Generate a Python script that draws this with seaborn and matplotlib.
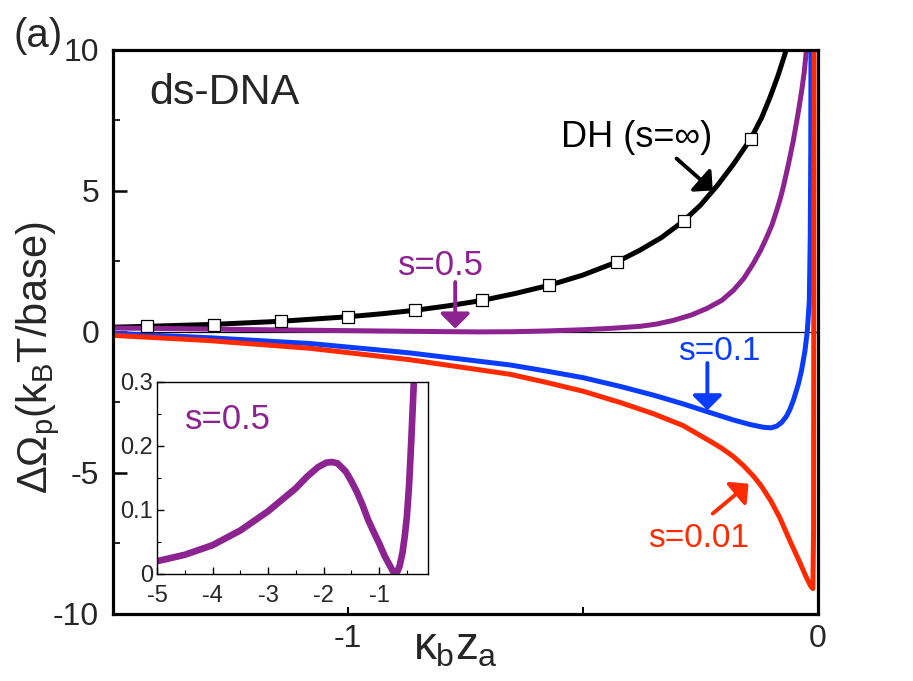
import matplotlib
matplotlib.use('Agg')
import matplotlib.pyplot as plt
from matplotlib.ticker import FixedLocator, FixedFormatter
import seaborn as sns

# DH (s = infinity) curve and its square markers
dh_x = [-1.5, -1.4286, -1.2857, -1.1429, -1.0, -0.929, -0.8571, -0.786, -0.7143, -0.643,
        -0.5714, -0.5, -0.4286, -0.379, -0.333, -0.2857, -0.25, -0.214, -0.18,
        -0.1429, -0.12, -0.102, -0.085, -0.070, -0.062]
dh_y = [0.17, 0.20, 0.27, 0.38, 0.54, 0.645, 0.77, 0.93, 1.12, 1.37,
        1.66, 2.02, 2.48, 2.9, 3.35, 3.94, 4.5, 5.2, 5.95,
        6.86, 7.6, 8.33, 9.1, 9.88, 10.4]
dh_mark_x = [-1.4286, -1.2857, -1.1429, -1.0, -0.8571, -0.7143, -0.5714, -0.4286, -0.2857, -0.1429]
dh_mark_y = [0.20, 0.26, 0.39, 0.53, 0.77, 1.12, 1.66, 2.48, 3.94, 6.86]

# s = 0.5
s05_x = [-1.5, -1.4, -1.3, -1.2, -1.1, -1.0, -0.9, -0.8, -0.72, -0.65, -0.58, -0.5,
         -0.44, -0.379, -0.344, -0.308, -0.27, -0.237, -0.205, -0.18, -0.158, -0.138,
         -0.122, -0.109, -0.098, -0.088, -0.08, -0.074, -0.063, -0.0525, -0.043,
         -0.0347, -0.0295, -0.0255, -0.022]
s05_y = [0.14, 0.125, 0.105, 0.085, 0.065, 0.048, 0.03, 0.013, 0.003, 0.01, 0.035, 0.08,
         0.13, 0.2, 0.28, 0.41, 0.6, 0.83, 1.12, 1.48, 1.9, 2.42,
         2.9, 3.37, 3.8, 4.31, 4.75, 5.14, 5.95, 6.8, 7.7,
         8.57, 9.2, 9.88, 10.6]

# s = 0.1
s01_x = [-1.5, -1.3, -1.08, -0.87, -0.655, -0.58, -0.5, -0.421, -0.35, -0.287, -0.233,
         -0.18, -0.145, -0.116, -0.1, -0.088, -0.077, -0.067, -0.06, -0.052, -0.042,
         -0.035, -0.028, -0.023, -0.0185, -0.0165, -0.0155, -0.015]
s01_y = [-0.05, -0.2, -0.41, -0.74, -1.17, -1.38, -1.62, -1.93, -2.24, -2.55, -2.84,
         -3.12, -3.28, -3.38, -3.40, -3.34, -3.2, -2.98, -2.75, -2.4, -1.85,
         -1.35, -0.68, 0.0, 1.12, 3.5, 6.5, 10.5]

# s = 0.01
s001_x = [-1.5, -1.3, -1.08, -0.87, -0.655, -0.58, -0.5, -0.421, -0.35, -0.287, -0.233,
          -0.205, -0.18, -0.158, -0.137, -0.12, -0.1, -0.081, -0.06, -0.038, -0.025,
          -0.016, -0.011, -0.0095, -0.0085]
s001_y = [-0.12, -0.3, -0.58, -0.98, -1.5, -1.78, -2.1, -2.5, -2.9, -3.32, -3.84,
          -4.12, -4.42, -4.75, -5.12, -5.48, -6.0, -6.6, -7.4, -8.2, -8.7,
          -9.0, -9.1, -7.0, 10.5]

# inset: s = 0.5 over a wider range
ins_x = [-5, -4.5, -4, -3.5, -3, -2.75, -2.5, -2.3, -2.1, -1.95, -1.85, -1.75, -1.6,
         -1.5, -1.4, -1.3, -1.2, -1.1, -1.0, -0.9, -0.8, -0.75, -0.71, -0.67, -0.63,
         -0.58, -0.54, -0.5, -0.46, -0.42, -0.38, -0.36]
ins_y = [0.020, 0.030, 0.045, 0.068, 0.098, 0.116, 0.134, 0.152, 0.167, 0.174, 0.175,
         0.173, 0.160, 0.145, 0.128, 0.108, 0.085, 0.066, 0.048, 0.028, 0.012, 0.004,
         0.001, 0.004, 0.013, 0.033, 0.058, 0.09, 0.14, 0.21, 0.29, 0.34]

main_xticks = [-1, 0]
main_xlabels = ['-1', '0']
main_yticks = [-10, -5, 0, 5, 10]
main_ylabels = ['-10', '-5', '0', '5', '10']
ins_xticks = [-5, -4, -3, -2, -1]
ins_xlabels = ['-5', '-4', '-3', '-2', '-1']
ins_yticks = [0, 0.1, 0.2, 0.3]
ins_ylabels = ['0', '0.1', '0.2', '0.3']

BLACK = '#000000'
PURPLE = '#8C2391'
BLUE = '#0A3CFF'
RED = '#FF2A00'


def make_plot():
    sns.set_theme(style='ticks')
    plt.rcParams['font.family'] = ['Liberation Sans', 'DejaVu Sans']
    plt.rcParams['mathtext.fontset'] = 'custom'
    plt.rcParams['mathtext.rm'] = 'Liberation Sans'
    plt.rcParams['mathtext.it'] = 'Liberation Sans'
    plt.rcParams['mathtext.bf'] = 'Liberation Sans:bold'

    fig = plt.figure(figsize=(9.13, 6.81), dpi=100)
    ax = fig.add_axes([0.1238, 0.0984, 0.7722, 0.8282])

    ax.axhline(0, color='black', lw=0.9, zorder=1)
    sns.lineplot(x=dh_x, y=dh_y, ax=ax, color=BLACK, lw=3.6, estimator=None, zorder=2)
    sns.lineplot(x=s05_x, y=s05_y, ax=ax, color=PURPLE, lw=3.6, estimator=None, zorder=2)
    sns.lineplot(x=s01_x, y=s01_y, ax=ax, color=BLUE, lw=3.6, estimator=None, zorder=2)
    sns.lineplot(x=s001_x, y=s001_y, ax=ax, color=RED, lw=3.6, estimator=None, zorder=2)
    sns.scatterplot(x=dh_mark_x, y=dh_mark_y, ax=ax, marker='s', s=85, color='white',
                    edgecolor='black', linewidth=0.9, zorder=5)

    ax.set_xlim(-1.5, 0)
    ax.set_ylim(-10, 10)
    ax.xaxis.set_major_locator(FixedLocator(main_xticks))
    ax.xaxis.set_major_formatter(FixedFormatter(main_xlabels))
    ax.xaxis.set_minor_locator(FixedLocator([-0.5]))
    ax.yaxis.set_major_locator(FixedLocator(main_yticks))
    ax.yaxis.set_major_formatter(FixedFormatter(main_ylabels))
    ax.yaxis.set_minor_locator(FixedLocator([-7.5, -2.5, 2.5, 7.5]))
    ax.tick_params(axis='both', which='both', direction='in', labelsize=23, color='black')
    ax.tick_params(axis='y', which='major', length=10, width=1.8, pad=10)
    ax.tick_params(axis='y', which='minor', length=5, width=1.2)
    ax.tick_params(axis='x', which='both', length=5, width=1.4, pad=7)
    for sp in ax.spines.values():
        sp.set_linewidth(2.3)
        sp.set_color('black')

    ax.set_xlabel('$\u03ba_b z_a$', fontsize=33, va='top')
    ax.xaxis.set_label_coords(0.485, -0.02)
    ax.set_ylabel(r'$\Delta\Omega_p(k_BT/base)$', fontsize=30)
    ax.yaxis.set_label_coords(-0.072, 0.454)

    ax.text(0.052, 0.904, 'ds-DNA', transform=ax.transAxes, fontsize=31, va='baseline')
    fig.text(13 / 913, 1 - 47 / 681, '(a)', fontsize=29, va='baseline')

    ax.text(-0.547, 6.56, 'DH (s=\u221e)', fontsize=26, color=BLACK, va='baseline')
    ax.text(-0.894, 2.01, 's=0.5', fontsize=25, color=PURPLE, va='baseline')
    ax.text(-0.297, -1.0, 's=0.1', fontsize=24, color=BLUE, va='baseline')
    ax.text(-0.361, -7.62, 's=0.01', fontsize=24, color=RED, va='baseline')

    arrows = [((-0.301, 6.15), (-0.224, 5.02), BLACK),
              ((-0.772, 1.77), (-0.772, 0.12), PURPLE),
              ((-0.2355, -1.10), (-0.2355, -2.78), BLUE),
              ((-0.224, -6.44), (-0.148, -5.38), RED)]
    for tail, head, c in arrows:
        ax.annotate('', xy=head, xytext=tail,
                    arrowprops=dict(arrowstyle='-|>,head_length=0.45,head_width=0.45',
                                    color=c, lw=2.8, shrinkA=0, shrinkB=0, mutation_scale=20))

    # inset
    ins = fig.add_axes([157 / 913, 107 / 681, 271 / 913, 192 / 681])
    sns.lineplot(x=ins_x, y=ins_y, ax=ins, color=PURPLE, lw=4.8, estimator=None)
    ins.set_xlim(-5, -0.12)
    ins.set_ylim(0, 0.3)
    ins.xaxis.set_major_locator(FixedLocator(ins_xticks))
    ins.xaxis.set_major_formatter(FixedFormatter(ins_xlabels))
    ins.xaxis.set_minor_locator(FixedLocator([-4.5, -3.5, -2.5, -1.5, -0.5]))
    ins.yaxis.set_major_locator(FixedLocator(ins_yticks))
    ins.yaxis.set_major_formatter(FixedFormatter(ins_ylabels))
    ins.yaxis.set_minor_locator(FixedLocator([0.05, 0.15, 0.25]))
    ins.tick_params(axis='both', which='both', direction='in', labelsize=17, color='black')
    ins.tick_params(axis='both', which='major', length=5, width=1.0)
    ins.tick_params(axis='both', which='minor', length=3, width=0.8)
    ins.tick_params(axis='y', pad=3)
    ins.tick_params(axis='x', pad=8)
    for sp in ins.spines.values():
        sp.set_linewidth(1.0)
        sp.set_color('black')
    ins.text(-4.5, 0.226, 's=0.5', fontsize=25, color=PURPLE, va='baseline')

    fig.savefig('out.png', dpi=100)


if __name__ == '__main__':
    make_plot()
